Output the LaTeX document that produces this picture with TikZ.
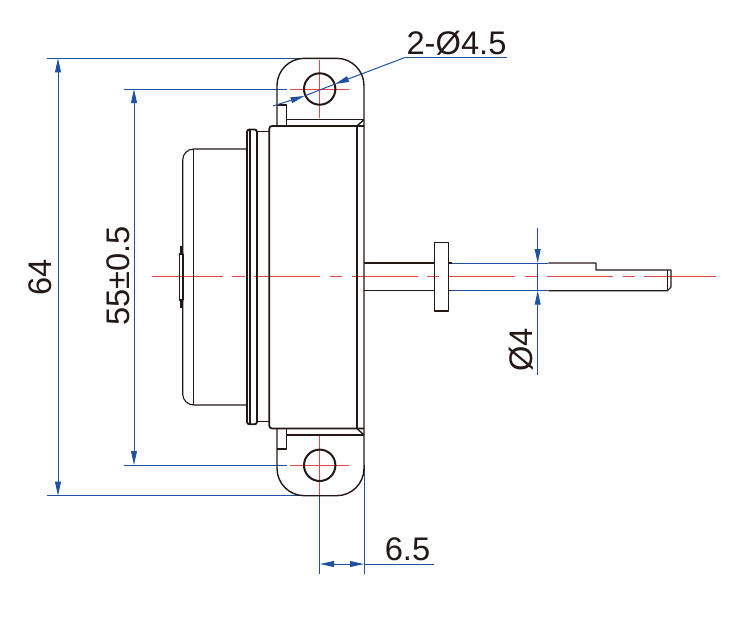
\documentclass[tikz,border=0pt]{standalone}
\usepackage{fontspec}
\setmainfont{Liberation Sans}
\usetikzlibrary{arrows.meta}
\definecolor{ink}{HTML}{231815}
\definecolor{dimblue}{HTML}{1F50A2}
\definecolor{axisred}{HTML}{E8444C}
\tikzset{
  outline/.style={draw=ink,line width=1.05pt,line join=round},
  thin outline/.style={draw=ink,line width=.85pt,line join=round},
  axis/.style={draw=axisred,line width=.75pt},
  dimline/.style={draw=dimblue,line width=.75pt},
  dimarrow/.style={dimline,arrows={-Triangle[length=10.5pt,width=4.4pt,fill=dimblue]}},
  dimboth/.style={dimline,arrows={Triangle[length=10.5pt,width=4.4pt,fill=dimblue]-Triangle[length=10.5pt,width=4.4pt,fill=dimblue]}},
  dimtext/.style={text=ink,font=\fontsize{24.5}{24.5}\selectfont,inner sep=0pt}
}
\begin{document}
\begin{tikzpicture}[x=.75pt,y=-.75pt]
\useasboundingbox (0,0) rectangle (744,618);
% ---- axes
\foreach \a/\b in {152/222.7,232.3/244.5,254/320,330/342,351.7/417.7,427.3/439.3,449.3/515,525/537,546.7/612.7,622.7/635,644.3/716}
  \draw[axis] (\a,276.7) -- (\b,276.7);
\draw[axis] (290,89) -- (349,89);
\draw[axis] (319.7,60) -- (319.7,118);
\draw[axis] (290,465.3) -- (349,465.3);
\draw[axis] (319.7,435) -- (319.7,496);
% ---- blue extension lines
\draw[dimline] (47,58.3) -- (302,58.3);
\draw[dimline] (47,495.7) -- (302,495.7);
\draw[dimline] (124,89) -- (287,89);
\draw[dimline] (124,465) -- (287,465);
\draw[dimline] (319.7,496) -- (319.7,574);
\draw[dimline] (364,465) -- (364,574);
% ---- motor cap
\draw[thin outline,rounded corners=8.25pt] (246.7,149) -- (182.7,149) -- (182.7,405) -- (246.7,405);
\draw[thin outline] (193.5,149) -- (193.5,405);
\draw[thin outline] (179.5,254) rectangle (183,300);
\draw[outline] (181,246) -- (181,254);
\draw[outline] (181,300) -- (181,308);
% ---- flange
\draw[outline,line width=1.4pt,rounded corners=1.8pt] (247,129.5) -- (257,129.5) -- (257,424.3) -- (247,424.3) -- cycle;
\draw[outline,line width=1.4pt] (250,130) -- (250,424);
\draw[thin outline] (257,131.7) -- (269,131.7);
\draw[thin outline] (257,421.7) -- (269,421.7);
% ---- main body
\draw[outline,line width=1.3pt,rounded corners=2pt] (364,126) -- (269.3,126) -- (269.3,428.5) -- (364,428.5);
\draw[outline] (357,126) -- (357,428.5);
\draw[outline] (364,119.5) -- (357,126);
\draw[outline] (364,435) -- (357,428.5);
% ---- lugs
\draw[outline,rounded corners=20.5pt] (277,126) -- (277,58.3) -- (364,58.3) -- (364,495.7) -- (277,495.7) -- (277,428.5);
\draw[outline] (277,105) -- (286.5,105) -- (286.5,126);
\draw[outline] (286.5,119.3) -- (364,119.3);
\draw[outline] (277,449) -- (286.5,449) -- (286.5,428.5);
\draw[outline] (286.5,435) -- (364,435);
\draw[outline,line width=1.5pt] (319.7,89) circle[radius=15.7];
\draw[outline,line width=1.5pt] (319.7,465.3) circle[radius=15.7];
% ---- shaft
\draw[thin outline] (364,263) -- (434.3,263);
\draw[thin outline] (364,290.7) -- (434.3,290.7);
\draw[outline] (434.3,242.7) rectangle (448.3,311);
\draw[thin outline] (448.3,263) -- (452,263);
\draw[thin outline] (448.3,290.7) -- (452,290.7);
\draw[dimline] (452,263) -- (548.3,263);
\draw[dimline] (452,290.7) -- (548.3,290.7);
\draw[thin outline] (548.3,263) -- (596,263) -- (596,270) -- (671,270) -- (671,287) -- (667.5,290.7) -- (548.3,290.7);
\draw[thin outline] (667.5,270) -- (667.5,290.7);
% ---- dimensions
\draw[dimboth] (58,58.3) -- (58,495.7);
\draw[dimboth] (134,89) -- (134,465);
\coordinate (dl) at (320,564);
\coordinate (dr) at (364,564);
\coordinate (dend) at (434,564);
\draw[dimboth] (dl) -- (dr);
\draw[dimline] (dr) -- (dend);
\coordinate (lt) at (537.7,263);
\coordinate (ltop) at (537.7,228);
\coordinate (lb) at (537.7,290.7);
\coordinate (lbot) at (537.7,375);
\draw[dimarrow] (ltop) -- (lt);
\draw[dimarrow] (lbot) -- (lb);
\draw[dimline] (lt) -- (lb);
\coordinate (ldA) at (273,106);
\coordinate (ldB) at (304.5,96);
\coordinate (ldC) at (335,84);
\coordinate (ldD) at (405,57.5);
\coordinate (ldE) at (507,57.5);
\draw[dimarrow] (ldA) -- (ldB);
\draw[dimarrow] (ldD) -- (ldC);
\draw[dimline] (ldB) -- (ldC);
\draw[dimline] (ldD) -- (ldE);
% ---- labels
\node[dimtext,anchor=base] (t45) at (456.5,54) {2-Ø4.5};
\node[dimtext,anchor=base,rotate=90] (t64) at (51,277) {64};
\node[dimtext,anchor=base,rotate=90] (t55) at (129,276) {55±0.5};
\node[dimtext,anchor=base,rotate=90] (t4) at (532,350) {Ø4};
\node[dimtext,anchor=base] (t65) at (407.5,560) {6.5};
\end{tikzpicture}
\end{document}
